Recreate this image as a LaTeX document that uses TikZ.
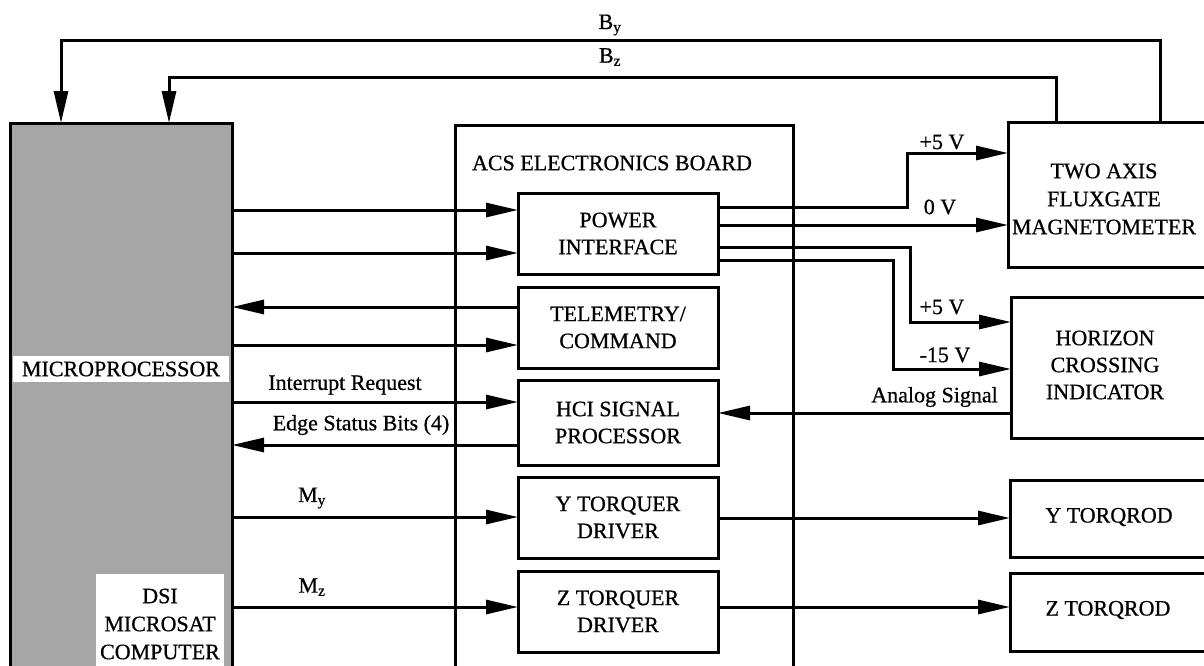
\documentclass[tikz,border=0pt]{standalone}
\usepackage{fontspec}
\setmainfont{Liberation Serif}[FakeBold=0.7]
\usetikzlibrary{arrows.meta}
\begin{document}
\begin{tikzpicture}[x=1pt,y=-1pt,
  box/.style={draw, line width=3pt, anchor=north west, inner sep=0pt, outer sep=0pt},
  txt/.style={align=center, font=\fontsize{22}{27}\selectfont, inner sep=0pt},
  lbl/.style={font=\fontsize{22}{26}\selectfont, inner sep=0pt},
  wire/.style={line width=3pt},
  arr/.style={wire, -{Triangle[length=32pt,width=14pt]}}]
\useasboundingbox (0,0) rectangle (1204,665);
\clip (0,0) rectangle (1204,665);
\fill[white] (0,0) rectangle (1204,665);

% microprocessor
\node[box, fill=black!35, minimum width=222pt, minimum height=580pt] (mp) at (10,123) {};
\node[txt, fill=white, minimum width=216pt, minimum height=26pt] (mpl) at (121,369) {MICROPROCESSOR};
\node[txt, fill=white, minimum width=128pt, minimum height=100pt, font=\fontsize{22}{28}\selectfont] (dsi) at (160,624) {DSI\\MICROSAT\\COMPUTER};

% ACS board
\node[box, minimum width=338pt, minimum height=600pt] (acs) at (455,125) {};
\node[lbl] (acst) at (612,163) {ACS ELECTRONICS BOARD};
\node[box, txt, minimum width=200pt, minimum height=81pt] (pwr) at (518,193) {POWER\\INTERFACE};
\node[box, txt, minimum width=200pt, minimum height=81pt] (tc) at (518,287) {TELEMETRY/\\COMMAND};
\node[box, txt, minimum width=200pt, minimum height=85pt] (hci) at (518,380) {HCI SIGNAL\\PROCESSOR};
\node[box, txt, minimum width=200pt, minimum height=81pt] (ytd) at (518,477) {Y TORQUER\\DRIVER};
\node[box, txt, minimum width=200pt, minimum height=81pt] (ztd) at (518,571) {Z TORQUER\\DRIVER};

% right-hand units
\node[box, minimum width=300pt, minimum height=145pt] (mag) at (1008,122) {};
\node[txt, font=\fontsize{22}{28}\selectfont] (magt) at (1104,199) {TWO AXIS\\FLUXGATE\\MAGNETOMETER};
\node[box, minimum width=300pt, minimum height=141pt] (hor) at (1011,297) {};
\node[txt] (hort) at (1105,365) {HORIZON\\CROSSING\\INDICATOR};
\node[box, minimum width=300pt, minimum height=77pt] (ytr) at (1010,480) {};
\node[txt] (ytrt) at (1109,517) {Y TORQROD};
\node[box, minimum width=300pt, minimum height=78pt] (ztr) at (1010,573) {};
\node[txt] (ztrt) at (1108,610) {Z TORQROD};

% magnetometer feedback
\coordinate (byc) at (61,40);
\coordinate (bzc) at (169,77);
\draw[arr] (mag.north -| 1160,0) |- (byc) -- (byc |- mp.north);
\draw[arr] (mag.north -| 1056,0) |- (bzc) -- (bzc |- mp.north);
\node[lbl] (by) at (610,25) {B\textsubscript{y}};
\node[lbl] (bz) at (610,57) {B\textsubscript{z}};

% microprocessor <-> board
\draw[arr] (mp.east |- 0,210) -- (pwr.west |- 0,210);
\draw[arr] (mp.east |- 0,253) -- (pwr.west |- 0,253);
\draw[arr] (tc.west |- 0,307) -- (mp.east |- 0,307);
\draw[arr] (mp.east |- 0,345) -- (tc.west |- 0,345);
\draw[arr] (mp.east |- 0,402) -- (hci.west |- 0,402);
\draw[arr] (hci.west |- 0,445) -- (mp.east |- 0,445);
\draw[arr] (mp.east |- 0,517) -- (ytd.west |- 0,517);
\draw[arr] (mp.east |- 0,607) -- (ztd.west |- 0,607);
\node[lbl] (irq) at (345,385) {Interrupt Request};
\node[lbl] (esb) at (361,425) {Edge Status Bits (4)};
\node[lbl] (my) at (312,498) {M\textsubscript{y}};
\node[lbl] (mz) at (312,587) {M\textsubscript{z}};

% power lines
\draw[arr] (pwr.east |- 0,207) -| (907,153) -- (mag.west |- 0,153);
\draw[arr] (pwr.east |- 0,225) -- (mag.west |- 0,225);
\draw[arr] (pwr.east |- 0,247) -| (910,322) -- (hor.west |- 0,322);
\draw[arr] (pwr.east |- 0,260) -| (893,369) -- (hor.west |- 0,369);
\node[lbl] (v1) at (942,142) {+5 V};
\node[lbl] (v2) at (940,207) {0 V};
\node[lbl] (v3) at (942,307) {+5 V};
\node[lbl] (v4) at (945,355) {-15 V};

% analog signal
\draw[arr] (hor.west |- 0,413) -- (hci.east |- 0,413);
\node[lbl, anchor=east] (ana) at (998,397) {Analog Signal};

% torquer outputs
\draw[arr] (ytd.east |- 0,518) -- (ytr.west |- 0,518);
\draw[arr] (ztd.east |- 0,607) -- (ztr.west |- 0,607);
\end{tikzpicture}
\end{document}
